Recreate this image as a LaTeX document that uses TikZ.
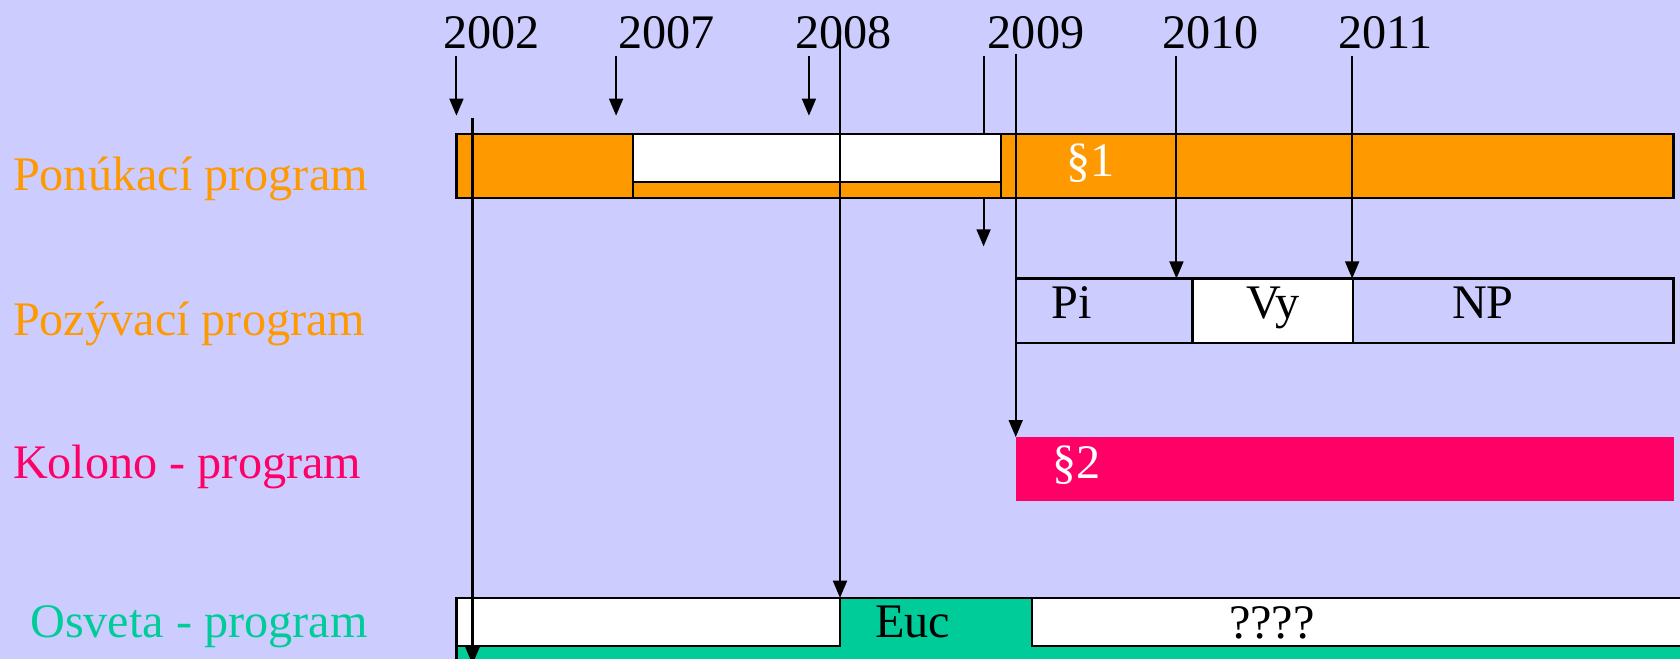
\documentclass[tikz,border=0pt]{standalone}
\usepackage{fontspec}
\setmainfont{Liberation Serif}
\usetikzlibrary{arrows.meta}
\definecolor{bg}{HTML}{CCCCFF}
\definecolor{org}{HTML}{FF9900}
\definecolor{mag}{HTML}{FF0066}
\definecolor{grn}{HTML}{00CC99}
\begin{document}
\begin{tikzpicture}[x=1pt,y=-1pt,
  font=\fontsize{45}{48}\selectfont,
  arr/.style={line width=1.9pt,-{Triangle[length=16pt,width=13pt]}},
  seg/.style={draw=black,line width=2.2pt,inner sep=0pt,outer sep=0pt,anchor=north west},
  yr/.style={anchor=base,text=black,inner sep=0pt},
  lbl/.style={anchor=base west,inner sep=0pt},
  intext/.style={anchor=base,inner sep=0pt}]
\fill[bg] (0,0) rectangle (1568,615);
\clip (0,0) rectangle (1568,615);
\useasboundingbox (0,0) rectangle (1568,615);

% year labels
\node[yr] (y2002) at (459,45) {2002};
\node[yr] (y2007) at (622,45) {2007};
\node[yr] (y2008) at (787,45) {2008};
\node[yr] (y2009) at (967,45) {2009};
\node[yr] (y2010) at (1130,45) {2010};
\node[yr] (y2011) at (1293,45) {2011};

% row labels
\node[lbl,text=org] (lpon) at (12,178) {Ponúkací program};
\node[lbl,text=org] (lpoz) at (12,313) {Pozývací program};
\node[lbl,text=mag] (lkol) at (12,447) {Kolono - program};
\node[lbl,text=grn] (losv) at (28,595) {Osveta - program};

% arrow hidden under the bar
\coordinate (s2009a) at (918,52);
\coordinate (e2009a) at (918,230);
\draw[arr] (s2009a) -- (e2009a);

% Ponukaci bar
\node[seg,fill=org,minimum width=1136pt,minimum height=60pt] (pon) at (426,125) {};
\node[seg,fill=white,minimum width=343pt,minimum height=45pt] (ponw) at (591,125) {};
\node[seg,fill=org,minimum width=343pt,minimum height=15pt] (pons) at (591,170) {};
\node[intext,text=white] (par1) at (1018,165) {§1};

% Pozyvaci bar
\node[seg,minimum width=614pt,minimum height=60pt] (poz) at (948,260) {};
\node[seg,fill=white,minimum width=150pt,minimum height=60pt] (pozv) at (1113,260) {};
\node[intext] (tpi) at (1000,297) {Pi};
\node[intext] (tvy) at (1188,297) {Vy};
\node[intext] (tnp) at (1384,297) {NP};

% Kolono bar
\node[fill=mag,inner sep=0pt,outer sep=0pt,anchor=north west,minimum width=614pt,minimum height=60pt] (kol) at (948,408) {};
\node[intext,text=white] (par2) at (1005,447) {§2};

% Osveta bar
\node[seg,fill=grn,minimum width=1200pt,minimum height=80pt] (osv) at (426,558) {};
\node[seg,fill=white,minimum width=358pt,minimum height=45pt] (osvl) at (426,558) {};
\node[seg,fill=white,minimum width=700pt,minimum height=45pt] (osvr) at (963,558) {};
\node[intext] (teuc) at (852,595) {Euc};
\node[intext] (tq) at (1187,596) {????};

% arrow coordinates
\coordinate (s2002) at (426,52);  \coordinate (e2002) at (426,108);
\coordinate (s2007) at (575,52);  \coordinate (e2007) at (575,108);
\coordinate (s2008) at (755,52);  \coordinate (e2008) at (755,108);
\coordinate (s2010) at (1098,52); \coordinate (e2010) at (1098,260);
\coordinate (s2011) at (1262,52); \coordinate (e2011) at (1262,260);
\coordinate (s2008l) at (784,33); \coordinate (e2008l) at (784,558);
\coordinate (s2009l) at (948,50); \coordinate (e2009l) at (948,408);
\coordinate (s2002l) at (441,110); \coordinate (e2002l) at (441,620);

\draw[arr] (s2002) -- (e2002);
\draw[arr] (s2007) -- (e2007);
\draw[arr] (s2008) -- (e2008);
\draw[arr] (s2010) -- (e2010);
\draw[arr] (s2011) -- (e2011);
\draw[arr] (s2008l) -- (e2008l);
\draw[arr] (s2009l) -- (e2009l);
\draw[arr] (s2002l) -- (e2002l);
\end{tikzpicture}
\end{document}
